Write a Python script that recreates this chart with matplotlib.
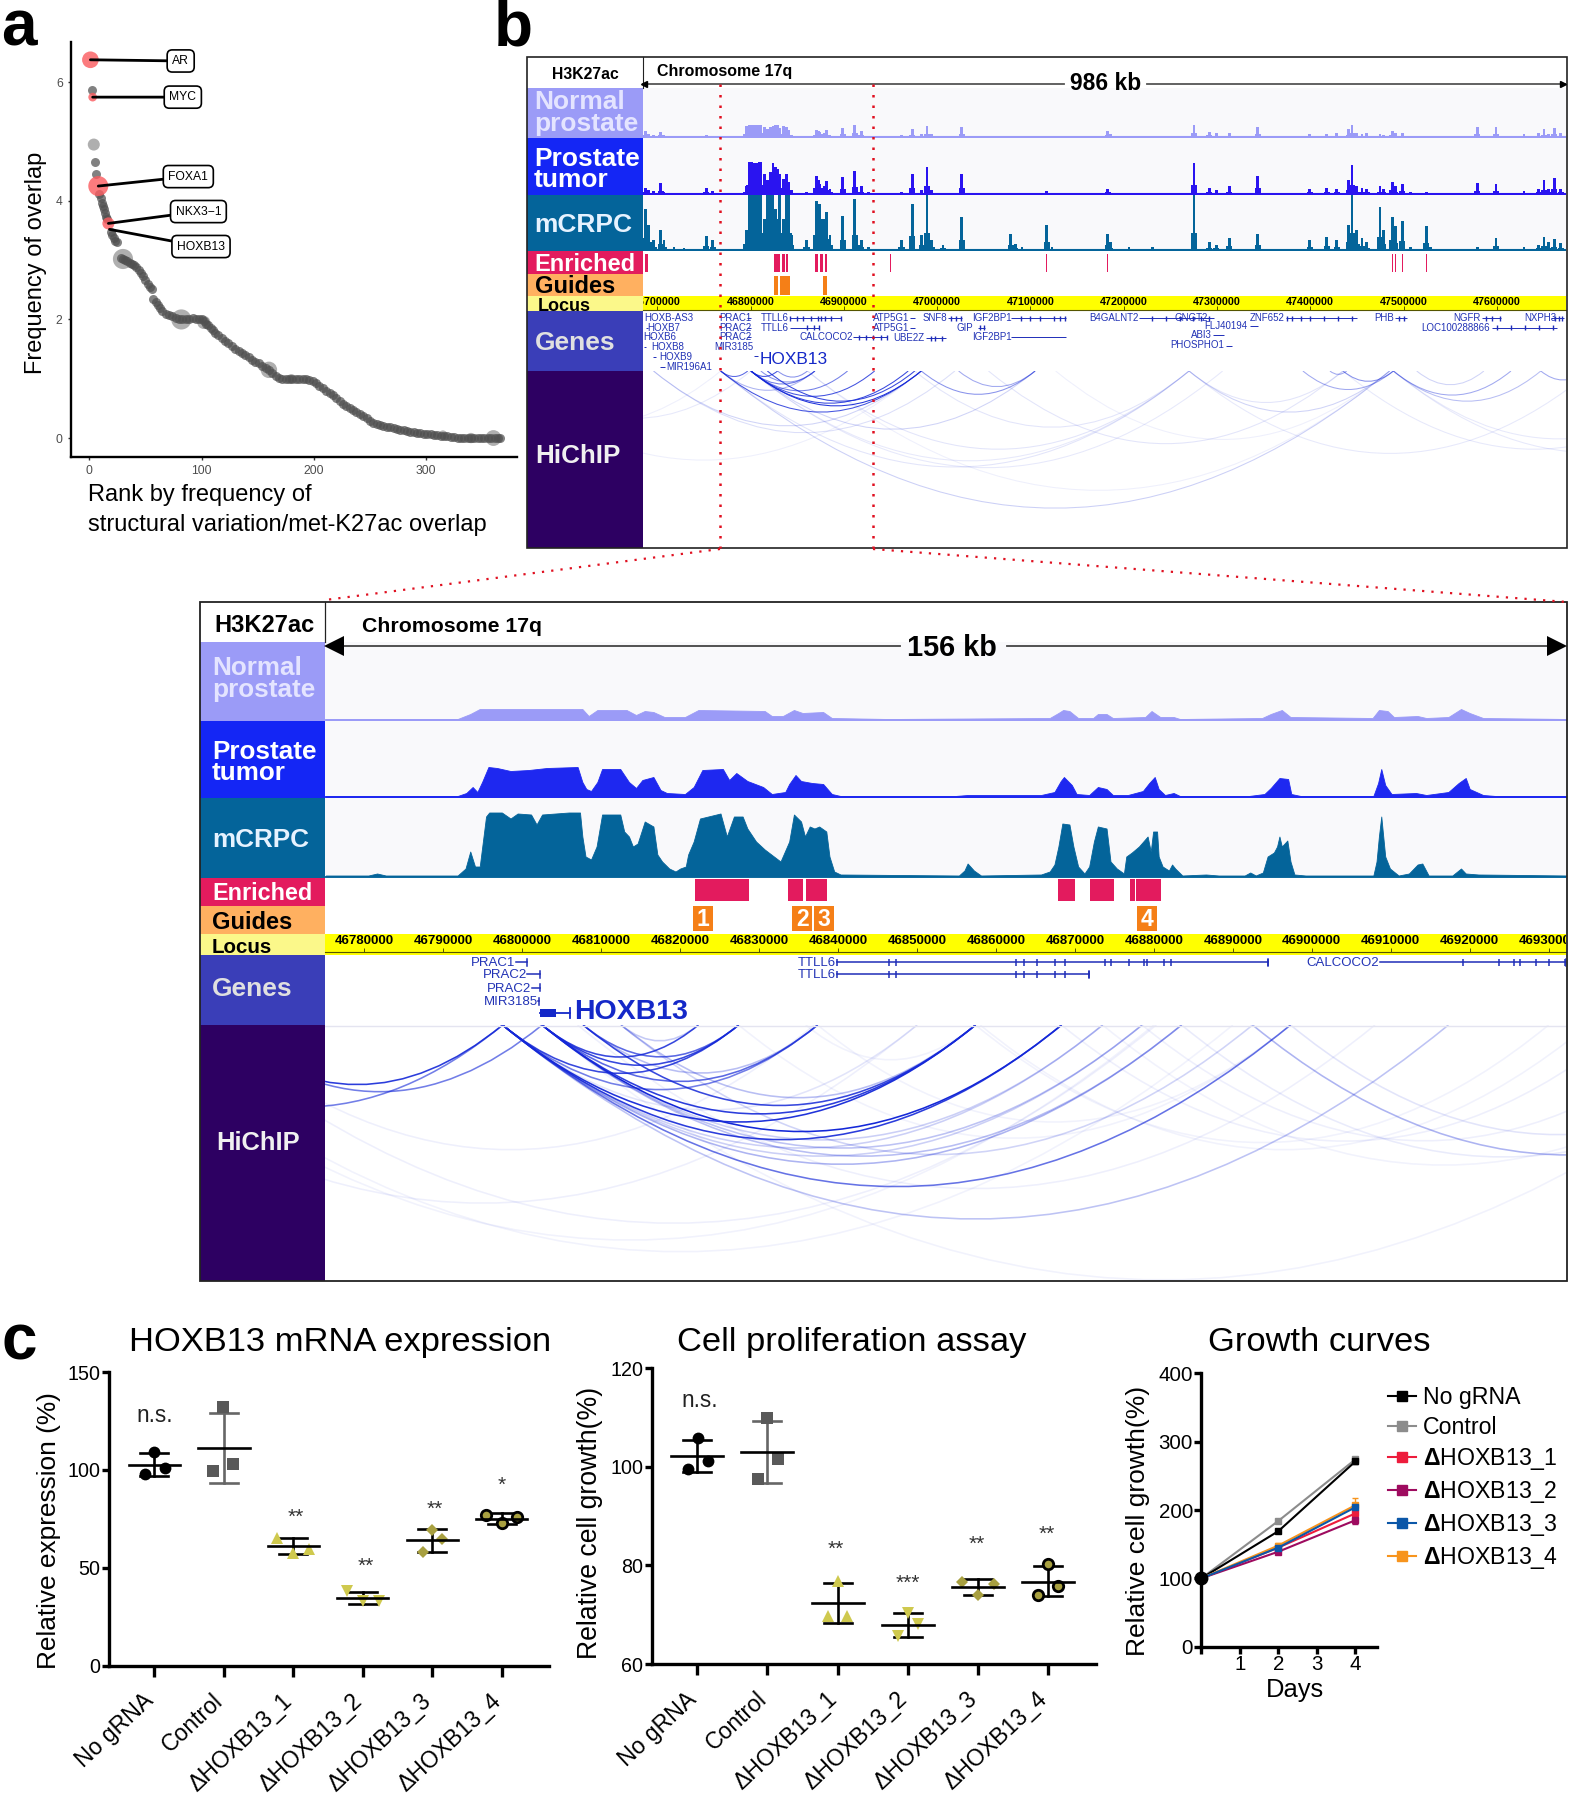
import matplotlib
matplotlib.use('Agg')
import matplotlib.pyplot as plt
from matplotlib.patches import Rectangle, PathPatch
from matplotlib.path import Path
from matplotlib.transforms import ScaledTranslation

plt.rcParams['font.family'] = ['Liberation Sans', 'DejaVu Sans']
plt.rcParams['mathtext.fontset'] = 'custom'
plt.rcParams['mathtext.bf'] = 'Liberation Sans:bold'
plt.rcParams['mathtext.rm'] = 'Liberation Sans'
plt.rcParams['axes.unicode_minus'] = False

W, H = 1569, 1800

# ------------------- panel a data -------------------
a_rank = [2, 5, 6, 9, 10, 11, 12, 13, 14, 15, 16, 19, 20, 22, 23, 25, 28, 30, 32, 34, 36, 38, 40, 42, 44, 46, 48, 50,
          52, 54, 56, 57, 59, 61, 63, 65, 68, 71, 74, 77, 80, 83, 86, 89, 92, 95, 98, 100, 102, 104, 106, 108, 110,
          112, 115, 118, 121, 124, 127, 130, 133, 136, 139, 142, 145, 148, 151, 154, 157, 160, 163, 166, 169, 172,
          175, 178, 181, 184, 187, 190, 193, 196, 199, 202, 205, 208, 211, 214, 217, 220, 223, 226, 229, 232, 235,
          238, 241, 244, 247, 250, 253, 256, 259, 262, 265, 268, 271, 274, 277, 280, 283, 286, 289, 292, 295, 298,
          301, 304, 307, 310, 313, 316, 319, 322, 325, 328, 331, 334, 337, 340, 343, 346, 349, 352, 355, 358, 361,
          364, 366]
a_freq = [5.87, 4.65, 4.45, 4.12, 4.05, 3.97, 3.92, 3.87, 3.8, 3.72, 3.7, 3.48, 3.42, 3.38, 3.33, 3.3, 3.03, 3.02, 3.0,
          2.98, 2.96, 2.93, 2.92, 2.88, 2.84, 2.78, 2.73, 2.67, 2.6, 2.55, 2.52, 2.35, 2.3, 2.25, 2.2, 2.15, 2.1, 2.07,
          2.05, 2.02, 2.0, 2.0, 2.0, 2.01, 2.02, 2.0, 2.0, 2.0, 1.98, 1.93, 1.9, 1.86, 1.83, 1.78, 1.74, 1.68, 1.63,
          1.6, 1.55, 1.5, 1.47, 1.44, 1.4, 1.36, 1.32, 1.28, 1.26, 1.22, 1.18, 1.15, 1.1, 1.05, 1.02, 1.0, 1.0, 1.0,
          1.0, 1.0, 1.0, 1.0, 1.0, 0.98, 0.96, 0.93, 0.88, 0.85, 0.8, 0.76, 0.72, 0.68, 0.62, 0.58, 0.54, 0.5, 0.47,
          0.44, 0.41, 0.38, 0.33, 0.28, 0.26, 0.24, 0.22, 0.21, 0.19, 0.18, 0.17, 0.15, 0.14, 0.13, 0.12, 0.11, 0.1,
          0.09, 0.08, 0.07, 0.07, 0.06, 0.05, 0.05, 0.04, 0.03, 0.03, 0.02, 0.01, 0.0, 0.0, 0.0, 0.0, 0.0, 0.0, 0.0,
          0.0, 0.0, 0.0, 0.0, 0.0, 0.0, 0.0]
a_big_rank = [4, 30, 82, 102, 160, 340, 360, 315, 180]
a_big_freq = [4.95, 3.02, 2.0, 1.95, 1.15, 0.0, 0.0, 0.05, 1.0]
a_big_size = [75, 210, 210, 90, 140, 55, 130, 45, 45]
a_red_gene = ['AR', 'MYC', 'FOXA1', 'NKX3−1', 'HOXB13']
a_red_rank = [1, 3, 8, 17, 18]
a_red_freq = [6.38, 5.75, 4.25, 3.62, 3.52]
a_red_size = [144, 39, 207, 75, 0]
a_lab_x = [81.4, 83.3, 88.2, 97.2, 99.5]
a_lab_y = [6.36, 5.75, 4.41, 3.82, 3.23]

# ------------------- panel b data (kb from 46,700,000) -------------------
b_pos = [-12.2, -9.3, -3.6, 3.6, 7.2, 17.9, 28.7, 52.4, 59.5, 68.1, 95.4, 98.3, 101, 104, 107, 110, 111.2, 114.8, 118.4,
         121, 124.1, 127, 129.1, 131.3, 134.9, 138.5, 141.3, 143.5, 160, 170.7, 172.5, 174.3, 177.2, 179.5, 181.5, 185.1, 198.7,
         211.6, 213.8, 218.8, 226, 261.8, 273.3, 283.4, 289.1, 294.1, 306.3, 326.4, 378.8, 383.8, 391, 417.5, 423.2,
         482.8, 485.7, 505.7, 530.8, 575.3, 591.8, 599, 613.3, 643.5, 699.4, 717.4, 728.1, 741, 744.6, 749.6, 755.4,
         760.4, 774.7, 778.3, 787.7, 791.2, 798.4, 807, 824.2, 828.6, 878.8, 898.9, 929, 944.8, 950.5, 955.5, 961.3,
         968.4]
b_crpc = [40, 25, 10, 20, 10, 3, 2, 14, 10, 1, 20, 54, 54, 54, 54, 54, 54, 30, 54, 54, 54, 40, 30, 54, 30, 54, 54, 15, 10, 48, 45, 45,
          30, 30, 37, 15, 33, 50, 15, 10, 3, 10, 45, 15, 54, 10, 5, 32, 16, 6, 3, 25, 3, 16, 8, 3, 3, 54, 8, 5, 12, 16,
          10, 13, 10, 25, 54, 20, 12, 8, 42, 20, 32, 24, 28, 3, 24, 3, 3, 12, 3, 5, 13, 8, 11, 7]
b_tumor = [6, 4, 3, 11, 2, 1, 0, 6, 3, 0, 8, 31, 31, 30, 30, 31, 31, 20, 14, 22, 30, 27, 25, 20, 15, 20, 12, 4, 2, 18, 14, 10,
           6, 8, 13, 5, 17, 23, 5, 8, 2, 2, 20, 4, 27, 4, 1, 20, 1, 0, 0, 3, 0, 5, 1, 0, 0, 30, 6, 4, 8, 18, 5, 6, 5, 14,
           28, 8, 6, 5, 8, 5, 12, 8, 10, 2, 2, 0, 11, 10, 3, 5, 14, 5, 16, 5]
b_normal = [6, 3, 2, 5, 2, 0, 0, 2, 1, 0, 11, 12, 12, 12, 12, 12, 12, 10, 8, 10, 11, 12, 12, 9, 11, 10, 7, 2, 0, 7, 6, 5,
            3, 4, 7, 2, 9, 12, 4, 6, 0, 2, 8, 3, 11, 3, 0, 10, 1, 0, 0, 1, 0, 6, 3, 0, 0, 12, 5, 4, 4, 10, 3, 3, 4, 8, 12,
            4, 3, 4, 3, 2, 6, 4, 4, 1, 1, 0, 10, 10, 3, 4, 8, 3, 9, 4]
b_enriched_start = [-12.9, 125.5, 133.4, 137.7, 169.3, 174.3, 179.3, 250, 417, 482.4, 788, 790.8, 798, 823.8]
b_enriched_end = [-10, 131.3, 137, 140.6, 172.2, 177.2, 182.2, 251, 418, 483.4, 789, 791.8, 799, 824.8]
b_guide_start = [124.8, 131.3, 135.9, 177.9]
b_guide_end = [129.1, 135.5, 142, 181.5]
b_ticks = [46700000, 46800000, 46900000, 47000000, 47100000, 47200000, 47300000, 47400000, 47500000, 47600000]
b_gene_name = ['HOXB-AS3', 'HOXB7', 'HOXB6', 'HOXB8', 'HOXB9', 'MIR196A1', 'PRAC1', 'PRAC2', 'PRAC2', 'MIR3185',
               'TTLL6', 'TTLL6', 'CALCOCO2', 'ATP5G1', 'ATP5G1', 'UBE2Z', 'SNF8', 'GIP', 'IGF2BP1', 'IGF2BP1',
               'B4GALNT2', 'GNGT2', 'FLJ40194', 'ABI3', 'PHOSPHO1', 'ZNF652', 'PHB', 'NGFR', 'LOC100288866', 'NXPH3']
b_gene_pos = [-14.3, -10.8, -15, -6.5, 2.2, 9.3, 66, 66.7, 66.7, 61, 111.2, 111.2, 152.8, 231.7, 231.7, 253.2, 284.1,
              320.7, 337.2, 337.2, 462.7, 554.5, 586.1, 571.7, 550.2, 634.9, 769, 853, 818.5, 929]
b_gene_row = [7, 16.7, 26, 35.7, 45.7, 56, 7, 16.7, 26, 36, 7, 16.7, 26, 7, 16.7, 27, 7, 16.7, 7, 26, 7, 7, 15, 24.3,
              34.5, 7, 7, 7, 16.7, 7]
b_line_start = [142, 142, 210.2, 270.4, 270.4, 288.4, 312, 343.6, 378.8, 378.8, 516.5, 591.8, 644.2, 595.4, 609.8, 674.3, 791.2, 884.5, 894.5, 957.7, 104,
                -12, -8, -14, -5, 3, 96, 96, 96]
b_line_end = [197.3, 173.6, 246.1, 276.2, 276.2, 309.9, 326.4, 351.5, 437.6, 437.6, 591, 596.8, 634.9, 607.6, 615.5, 749.6, 803.4, 903.9, 964.8, 972, 107.6,
              -10, -6, -12, -1, 8, 100, 100, 100]
b_line_row = [7, 16.7, 26, 7, 16.7, 27, 7, 16.7, 7, 26, 7, 7, 15, 24.3, 34.5, 7, 7, 7, 16.7, 7, 45, 16.7, 26, 35.7, 45.7, 56, 7, 16.7, 26]
b_exon = [142, 150, 156, 165, 172, 176, 180, 186, 197, 160, 168, 173, 216, 224, 231, 240, 246, 293, 298, 305, 315, 320,
          326, 346, 350, 390, 400, 410, 425, 432, 437, 530, 545, 560, 574, 583, 591, 675, 680, 690, 700, 715, 730, 745,
          795, 800, 888, 895, 903, 900, 915, 930, 945, 960, 962, 966, 970]
b_exon_row = [7, 7, 7, 7, 7, 7, 7, 7, 7, 16.7, 16.7, 16.7, 26, 26, 26, 26, 26, 27, 27, 27, 7, 7, 7, 16.7, 16.7, 7, 7, 7,
              7, 7, 7, 7, 7, 7, 7, 7, 7, 7, 7, 7, 7, 7, 7, 7, 7, 7, 7, 7, 7, 16.7, 16.7, 16.7, 16.7, 16.7, 7, 7, 7]
b_arc_start = [100.4, 68, 100.4, 100.4, 100.4, 111, 118, 100.4, 68, 100.4, 129, 68, -4, -4, 100.4, 283, 323, 276, 570, 692, 735,
               789, 789, 721, 814, 570, 161, 100.4, 570, 947, 789, 735, 789, 100.4, 68, 427, -147, -219, -183, 68, 355, 161]
b_arc_end = [283, 283, 233, 204, 169, 169, 276, 269, 97, 129, 161, 169, 283, 319, 405, 405, 405, 570, 785, 789, 789, 915,
             947, 739, 886, 735, 570, 570, 1001, 994, 1216, 1144, 1144, 606, 785, 785, 100.4, 68, 283, 570, 735, 785]
b_arc_alpha = [.95, .8, .8, .6, .6, .5, .85, .85, .7, .8, .5, .35, .2, .15, .2, .5, .4, .12, .2, .4, .5, .4, .3, .4, .2, .12, .12,
               .1, .1, .4, .1, .1, .1, .1, .22, .07, .1, .07, .07, .12, .12, .07]

# ------------------- zoomed panel data -------------------
z_crpc_pos = [75.1, 80.5, 81.6, 82.7, 91.8, 92.8, 93.4, 94, 94.6, 95, 95.4, 95.8, 97.4, 98.5, 99.4, 101.1, 101.8, 102.5, 105.9,
              107.3, 107.6, 108, 108.7, 109.4, 110.1, 112.4, 112.9, 113.5, 114, 114.6, 115.5, 116.6, 117.1, 117.7, 118.6,
              119.4, 120, 120.7, 121, 121.7, 122.5, 125.1, 125.9, 126.8, 127.9, 128.5, 129.6, 130.7, 132.7, 133.8, 134.4,
              135.3, 135.8, 136.4, 137, 137.6, 138.5, 138.9, 139.5, 140.3, 155.3, 156, 156.4, 157.2, 158.1, 165.7, 166.8,
              167.4, 167.9, 168.4, 169.3, 169.8, 170.4, 171.2, 171.8, 172.4, 172.9, 174, 174.5, 175.3, 176.2, 176.5, 177.2,
              178.1, 179.2, 179.6, 179.9, 180.4, 180.6, 181.1, 181.9, 182.3, 182.7, 183.6, 186.6, 188.2, 191.5, 192.2,
              192.9, 193.8, 194.4, 195.2, 195.6, 195.9, 196.2, 196.9, 197.3, 197.8, 199.2, 207.8, 208.2, 208.5, 208.8,
              209.3, 209.9, 211, 212.3, 213.4, 214, 214.8, 217.8, 218.9, 219.5, 221.1, 232.5]
z_crpc_val = [1, 1, 3, 1, 1, 8, 25, 10, 10, 35, 60, 64, 64, 58, 63, 62, 52, 62, 64, 64, 40, 20, 17, 30, 62, 62, 45, 40, 30, 33,
              55, 50, 22, 15, 8, 5, 8, 10, 22, 35, 58, 63, 40, 60, 60, 48, 35, 27, 15, 35, 62, 55, 40, 50, 48, 50, 45, 20, 5,
              2, 1, 6, 13, 6, 1, 2, 5, 12, 30, 53, 52, 30, 10, 3, 10, 35, 50, 48, 15, 8, 3, 20, 24, 30, 40, 25, 45, 45, 20,
              10, 6, 12, 8, 1, 2, 1, 1, 4, 1, 4, 20, 24, 30, 40, 30, 36, 15, 2, 1, 1, 15, 40, 60, 20, 8, 1, 3, 12, 13, 1, 1,
              8, 3, 2, 1]
z_tumor_pos = [75.1, 91.8, 92.9, 93.7, 94.3, 94.9, 95.7, 96.8, 98.5, 100.8, 103.1, 107, 107.6, 108.1, 108.7, 109.5, 110.1, 112.4,
               113.5, 114.4, 115.2, 116.6, 117.5, 118.3, 120.6, 121.7, 122.8, 125.4, 126.2, 127.1, 128.5, 130.5, 131.6,
               133.3, 133.8, 134.6, 135.3, 136.7, 138.1, 139.2, 140.3, 154.8, 156.4, 165.7, 167.4, 168.2, 168.6, 169.6,
               170.2, 171.8, 172.9, 174, 174.8, 176.7, 178.6, 179.4, 180.1, 180.6, 181.4, 182.5, 183.3, 192, 194, 194.8,
               195.9, 197, 197.4, 198.6, 207.8, 208.4, 208.8, 209.3, 210.1, 213.2, 214.5, 217.3, 218.6, 219.5, 220, 221.7,
               223.3, 232.5]
z_tumor_val = [1, 1, 4, 10, 5, 15, 30, 29, 26, 27, 29, 30, 15, 8, 6, 15, 28, 28, 15, 9, 17, 20, 7, 4, 3, 10, 27, 28, 17, 24, 16,
               10, 3, 5, 13, 22, 16, 14, 13, 3, 1, 1, 2, 2, 5, 16, 20, 12, 3, 2, 10, 8, 2, 2, 6, 14, 20, 8, 2, 4, 1, 1, 3, 9,
               19, 18, 3, 1, 1, 14, 28, 12, 3, 4, 2, 5, 14, 19, 8, 2, 1, 1]
z_normal_pos = [75.1, 91.8, 93.4, 94.6, 95.7, 107.6, 108.4, 109.5, 113.2, 114.4, 115.5, 116.6, 118, 120.6, 122.3, 130.7, 131.6,
                133, 134.4, 135.5, 138.1, 139.2, 146.4, 166.8, 167.9, 168.5, 169.3, 170.4, 172.3, 172.9, 174, 174.8, 178.9,
                179.7, 180.8, 182.5, 183.3, 193.7, 194.8, 196.2, 197.3, 207.7, 208.5, 209.6, 210.4, 213.4, 214.5, 217.3,
                218.9, 220, 221.7, 232.5]
z_normal_val = [1, 1, 6, 11, 11, 11, 4, 10, 10, 5, 9, 8, 3, 3, 10, 9, 4, 4, 10, 7, 8, 2, 1, 2, 7, 10, 9, 2, 2, 6, 6, 2, 3, 9, 3,
                3, 1, 2, 6, 10, 3, 2, 10, 9, 3, 4, 2, 3, 11, 7, 2, 1]
z_enriched_start = [121.9, 133.6, 135.9, 167.8, 171.9, 177, 177.7]
z_enriched_end = [128.7, 135.5, 138.6, 170, 175, 177.6, 180.9]
z_guide_start = [121.6, 134.2, 137, 177.9]
z_guide_end = [124.1, 136.7, 139.5, 180.4]
z_guide_label = ['1', '2', '3', '4']
z_ticks = [46780000, 46790000, 46800000, 46810000, 46820000, 46830000, 46840000, 46850000, 46860000, 46870000, 46880000,
           46890000, 46900000, 46910000, 46920000, 46930000]
z_gene_name = ['PRAC1', 'PRAC2', 'PRAC2', 'MIR3185', 'TTLL6', 'TTLL6', 'CALCOCO2']
z_gene_start = [99.2, 100.6, 101.2, 102, 139.8, 139.8, 208.6]
z_gene_end = [100.6, 102.2, 102.2, 102.1, 194.4, 171.8, 232.2]
z_gene_row = [7, 19, 32.7, 46, 7, 19, 7]
z_exons_1 = [139.9, 146.5, 147.3, 162.5, 163.6, 165.2, 167.5, 168.8, 173.8, 174.6, 176.9, 178.8, 179.1, 181.3, 182.2, 194.4]
z_exons_2 = [139.9, 146.5, 147.3, 162.5, 163.6, 165.2, 167.5, 168.8, 171.8]
z_exons_3 = [219.2, 223.7, 225.6, 226.4, 228.4, 230.1, 232.1]
z_arc_start = [60.7, 61.3, 46.8, 102.5, 102.5, 97.5, 102.5, 97.5, 107.7, 112.5, 107.7, 112.5, 107.7, 102.5, 97.5, 102.5, 97.5,
               102.5, 97.5, 102.5, 97.5, 97.5, 102.5, 97.5, 97.5, 57.9, 47.2, 192.5, 183.5, 197.3, 178.5, 102.5, 40, 50, 60,
               135.9, 157.4, 168.3, 158, 107, 112.5, 97.5, 173.5, 137.4, 127.4]
z_arc_end = [97.5, 102.5, 97.5, 122.3, 127.4, 127.4, 137.4, 137.4, 137.4, 122.3, 127.4, 157.4, 157.4, 157.4, 157.4, 168.3,
             168.3, 183.5, 183.5, 178.5, 173.5, 178.5, 173.5, 197.3, 217.3, 180.3, 180, 272.8, 265, 265, 250, 259.9, 150,
             190, 137, 157.4, 230, 240, 235, 208, 192.5, 150, 260, 197.3, 197.3]
z_arc_alpha = [.9, .6, .6, .85, .85, .85, .7, .6, .3, .25, .7, .3, .85, .9, .95, 1, .9, .3, .35, .28, .22, .22, .22, .65, .28,
               .07, .06, .35, .09, .12, .07, .06, .07, .06, .07, .06, .06, .07, .06, .07, .2, .12, .06, .06, .06]

# ------------------- panel c data -------------------
c_groups = ['No gRNA', 'Control', 'ΔHOXB13_1', 'ΔHOXB13_2', 'ΔHOXB13_3', 'ΔHOXB13_4']
c_colors = ['black', '#595959', '#CFC94E', '#CFC94E', '#A8A040', '#A8A040']
c_markers = ['o', 's', '^', 'v', 'D', 'o']
c_msize = [8.5, 9, 9, 9, 6.5, 7.5]

expr_off = [[0, .155, -.135], [-.01, .13, -.155], [-.237, 0, .232], [-.22, .01, .24], [0, .145, -.14], [-.227, 0, .222]]
expr_val = [[109.3, 101, 98], [132.3, 102.8, 99.4], [65.2, 57.4, 59.8], [38.1, 33.2, 33.2], [69.5, 64.9, 58.2], [77, 72.7, 75.8]]
expr_mean = [102.5, 111.3, 61.1, 34.6, 64.2, 74.9]
expr_hi = [108.5, 129.2, 65.4, 37.8, 69.8, 77.8]
expr_lo = [97, 93.5, 57, 31.5, 58.2, 72.2]
expr_star = ['n.s.', '', '**', '**', '**', '*']
expr_star_x = [0, 0, .04, .04, .03, 0]
expr_star_y = [128, 0, 76, 51, 80, 92]

prol_off = [[.005, .15, -.14], [0, .15, -.14], [0, -.14, .14], [0, .15, -.14], [-.225, .23, 0], [0, .144, -.138]]
prol_val = [[105.8, 101.1, 99.6], [109.9, 101.5, 97.6], [76.8, 69.7, 69.7], [70.4, 68.1, 65.7], [76.7, 76.2, 74], [80.3, 75.9, 74]]
prol_mean = [102.2, 103, 72.4, 68, 75.6, 76.7]
prol_hi = [105.4, 109.4, 76.4, 70.3, 77.2, 79.8]
prol_lo = [99, 96.7, 68.4, 65.5, 74.1, 73.7]
prol_star = ['n.s.', '', '**', '***', '**', '**']
prol_star_x = [.03, 0, -.02, 0, -.01, -.01]
prol_star_y = [113.4, 0, 83.3, 76.3, 84.3, 86.3]

days = [0, 2, 4]
gc_names = ['No gRNA', 'Control', r'$\mathbf{\Delta}$HOXB13_1', r'$\mathbf{\Delta}$HOXB13_2',
            r'$\mathbf{\Delta}$HOXB13_3', r'$\mathbf{\Delta}$HOXB13_4']
gc_colors = ['black', '#8C8C8C', '#ED1C3C', '#9E0B5F', '#0B57A8', '#F7941D']
gc_order = [1, 0, 2, 3, 5, 4]
gc_vals = [[100, 169, 271], [100, 184, 274], [100, 145, 195], [100, 139, 185], [100, 145, 204], [100, 148, 207]]
gc_err = [[0, 3, 4], [0, 3, 4], [0, 3, 6], [0, 3, 5], [0, 3, 6], [0, 4, 11]]

# ---------------------------------------------------------------
fig = plt.figure(figsize=(W / 100, H / 100), dpi=100, facecolor='white')


def px_axes(l, t, r, b, **kw):
    return fig.add_axes([l / W, 1 - b / H, (r - l) / W, (b - t) / H], **kw)


ov = px_axes(0, 0, W, H, zorder=20)
ov.set_xlim(0, W)
ov.set_ylim(H, 0)
ov.axis('off')
ov.patch.set_alpha(0)

bk = px_axes(0, 0, W, H, zorder=0)
bk.set_xlim(0, W)
bk.set_ylim(H, 0)
bk.axis('off')

for s, x, y in [('a', 1, 46), ('b', 494, 46), ('c', 1, 1360)]:
    ov.text(x, y, s, fontsize=46, fontweight='bold', ha='left', va='baseline')

# ---------- panel a ----------
ax = px_axes(71, 42, 517, 457, zorder=5)
ax.set_xlim(-16.3, 381)
ax.set_ylim(-0.32, 6.68)
ax.scatter(a_rank, a_freq, s=42, c='#505050', alpha=.72, linewidths=0, zorder=2)
ax.scatter(a_big_rank, a_big_freq, s=a_big_size, c='#7A7A7A', alpha=.6, linewidths=0, zorder=1)
ax.scatter(a_red_rank, a_red_freq, s=a_red_size, c='#FB5A5E', alpha=.8, linewidths=0, zorder=3)
for g, rx, ry, lx, ly in zip(a_red_gene, a_red_rank, a_red_freq, a_lab_x, a_lab_y):
    ax.annotate(g, xy=(rx, ry), xytext=(lx, ly), fontsize=8.7, ha='center', va='center', zorder=6,
                bbox=dict(boxstyle='round,pad=0.42', fc='white', ec='black', lw=1.2),
                arrowprops=dict(arrowstyle='-', color='black', lw=2, shrinkA=0, shrinkB=0))
for s in ['top', 'right']:
    ax.spines[s].set_visible(False)
for s in ['left', 'bottom']:
    ax.spines[s].set_linewidth(1.7)
ax.set_xticks([0, 100, 200, 300])
ax.set_yticks([0, 2, 4, 6])
ax.tick_params(labelsize=8.7, labelcolor='#4D4D4D', color='#333333', length=2.5, width=1)
ov.text(36, 262.5, 'Frequency of overlap', rotation=90, fontsize=17, ha='center', va='center')
ov.text(88, 495, 'Rank by frequency of', fontsize=17, ha='left', va='center')
ov.text(88, 524.5, 'structural variation/met-K27ac overlap', fontsize=17, ha='left', va='center')


# ---------- genome browser panels ----------
def rows_bg(rows):
    for top, bot, col in rows:
        bk.add_patch(Rectangle((rows_l, top), rows_r - rows_l, bot - top, fc=col, ec='none'))


def track_ax(top, bot, xlim, r):
    a = px_axes(rows_r, top, r, bot, zorder=3)
    a.set_xlim(*xlim)
    a.axis('off')
    return a


def label(x, y, s, size, color='white'):
    ov.text(x, y + 2.3, s, fontsize=size, fontweight='bold', color=color, ha='left', va='center')


def add_arcs(a, starts, ends, alphas, kpx, lw):
    for s, e, al in zip(starts, ends, alphas):
        d = 0.205 * (e - s) * kpx
        p = Path([(s, 0), ((s + e) / 2, 2 * d), (e, 0)], [Path.MOVETO, Path.CURVE3, Path.CURVE3])
        a.add_patch(PathPatch(p, fill=False, ec='#1428D8', lw=lw, alpha=al))


COL = dict(normal='#9B9BF7', tumor='#1426F5', crpc='#04649A', enr='#E31B5E', gui='#FFB060', loc='#FBF88A',
           gen='#3A3EB8', hic='#2D0062')
TRK = '#F9F9FB'

# panel b
rows_l, rows_r = 527, 642.5
R = 1566
y0 = [57, 88, 138, 195, 251, 274, 296, 311, 371, 548]
rows_bg([(y0[1], y0[2], COL['normal']), (y0[2], y0[3], COL['tumor']), (y0[3], y0[4], COL['crpc']), (y0[4], y0[5], COL['enr']),
         (y0[5], y0[6], COL['gui']), (y0[6], y0[7], COL['loc']), (y0[7], y0[8], COL['gen']), (y0[8], y0[9], COL['hic'])])
xl = (-15.8, 974)
for top, bot, vals, col in [(y0[1], y0[2], b_normal, COL['normal']), (y0[2], y0[3], b_tumor, '#2A14F0'), (y0[3], y0[4], b_crpc, COL['crpc'])]:
    a = track_ax(top, bot, xl, R)
    a.axis('on')
    a.set_xticks([])
    a.set_yticks([])
    for sp in a.spines.values():
        sp.set_visible(False)
    a.set_facecolor(TRK)
    a.set_ylim(-1, bot - top - 2)
    a.bar(b_pos, vals, width=3.0, color=col, linewidth=0)
    a.bar(b_pos, [v * .3 for v in vals], width=6.5, color=col, linewidth=0)
    a.axhline(0, color=col, lw=1.5)
a = track_ax(y0[4], y0[5], xl, R)
a.set_ylim(0, 1)
for s, e in zip(b_enriched_start, b_enriched_end):
    a.add_patch(Rectangle((s, .1), e - s, .78, fc=COL['enr'], ec='none'))
a = track_ax(y0[5], y0[6], xl, R)
a.set_ylim(0, 1)
for s, e in zip(b_guide_start, b_guide_end):
    a.add_patch(Rectangle((s, .05), e - s, .87, fc='#F57F17', ec='none'))
a = px_axes(rows_r, y0[6], R, y0[7], zorder=3)
a.set_xlim(*xl)
a.set_ylim(0, 1)
a.set_facecolor('#FFFF00')
for s in ['top', 'left', 'right']:
    a.spines[s].set_visible(False)
a.spines['bottom'].set_position(('axes', 0.08))
a.spines['bottom'].set_color('#555500')
a.set_yticks([])
a.set_xticks([t / 1000 - 46700 for t in b_ticks])
a.set_xticklabels([])
a.tick_params(axis='x', direction='in', length=3, width=.7, color='#555500')
for t in b_ticks:
    a.text(t / 1000 - 46700, .58, str(t), fontsize=7.7, fontweight='bold', ha='center', va='center', clip_on=True)
a = track_ax(y0[7], y0[8], xl, R)
a.set_ylim(y0[8] - y0[7], 0)
for n, p, r in zip(b_gene_name, b_gene_pos, b_gene_row):
    a.text(p, r, n, fontsize=7, color='#2233B5', ha='left', va='center')
a.text(109.8, 48, 'HOXB13', fontsize=12.4, color='#1428C8', ha='left', va='center')
a.hlines(b_line_row, b_line_start, b_line_end, color='#1F2DB8', lw=.7)
a.vlines(b_exon, [r - 2.5 for r in b_exon_row], [r + 2.5 for r in b_exon_row], color='#1F2DB8', lw=1.0)
a = track_ax(y0[8], y0[9], xl, R)
a.set_ylim(y0[9] - y0[8], 0)
add_arcs(a, b_arc_start, b_arc_end, b_arc_alpha, 0.933, .75)

ov.add_patch(Rectangle((527, 57), 1567 - 527, 491, fc='none', ec='#222222', lw=1.2))
ov.plot([642.5, 642.5], [57, 88], color='#222222', lw=.8)
ov.text(585, 74.5, 'H3K27ac', fontsize=11.3, fontweight='bold', ha='center', va='center')
ov.text(657, 71.5, 'Chromosome 17q', fontsize=11.5, fontweight='bold', ha='left', va='center')
ov.text(1105.7, 83, '986 kb', fontsize=16.4, fontweight='bold', ha='center', va='center')
ov.plot([642.5, 1063.5], [84, 84], color='#555555', lw=1.3)
ov.plot([1147, 1566], [84, 84], color='#555555', lw=1.3)
ov.plot([644], [84], marker='<', color='black', ms=5)
ov.plot([1563], [84], marker='>', color='black', ms=5)
label(534, 100, 'Normal', 19, '#E4E4FF')
label(534, 121.7, 'prostate', 19, '#E4E4FF')
label(534, 156.7, 'Prostate', 19)
label(534, 178, 'tumor', 19)
label(534, 223, 'mCRPC', 19, '#E6F2FF')
label(534, 262, 'Enriched', 17)
label(535, 284, 'Guides', 17, 'black')
label(538, 304, 'Locus', 13, 'black')
label(535, 341, 'Genes', 19, '#E0E0E0')
label(535.5, 454, 'HiChIP', 18.7, '#F0F0F0')

for x in (720, 873):
    ov.plot([x, x], [84, 548], color='#E01020', lw=1.8, ls=(0, (1, 3.2)))
ov.plot([720, 325], [549, 600], color='#E01020', lw=1.6, ls=(0, (1, 3.2)))
ov.plot([873, 1567], [549, 602], color='#E01020', lw=1.6, ls=(0, (1, 3.2)))

# zoomed panel
rows_l, rows_r = 200, 325
R = 1566
y1 = [602, 642, 721, 798, 877.5, 905.5, 934, 955, 1025, 1281]
rows_bg([(y1[1], y1[2], COL['normal']), (y1[2], y1[3], COL['tumor']), (y1[3], y1[4], COL['crpc']), (y1[4], y1[5], COL['enr']),
         (y1[5], y1[6], COL['gui']), (y1[6], y1[7], COL['loc']), (y1[7], y1[8], COL['gen']), (y1[8], y1[9], COL['hic'])])
xl = (75.0, 232.2)
for top, bot, px_, vals, col in [(y1[1], y1[2], z_normal_pos, z_normal_val, COL['normal']), (y1[2], y1[3], z_tumor_pos, z_tumor_val, '#1E28F0'),
                                 (y1[3], y1[4], z_crpc_pos, z_crpc_val, COL['crpc'])]:
    a = track_ax(top, bot, xl, R)
    a.axis('on')
    a.set_xticks([])
    a.set_yticks([])
    for sp in a.spines.values():
        sp.set_visible(False)
    a.set_facecolor(TRK)
    a.set_ylim(-1, bot - top - 1)
    a.fill_between(px_, 0, vals, color=col, linewidth=0.6)
    a.axhline(0, color=col, lw=1.3)
a = track_ax(y1[4], y1[5], xl, R)
a.set_ylim(0, 1)
for s, e in zip(z_enriched_start, z_enriched_end):
    a.add_patch(Rectangle((s, .17), e - s, .77, fc=COL['enr'], ec='none'))
a = track_ax(y1[5], y1[6], xl, R)
a.set_ylim(0, 1)
for s, e, n in zip(z_guide_start, z_guide_end, z_guide_label):
    a.add_patch(Rectangle((s, .1), e - s, .87, fc='#F57F17', ec='none'))
    a.text((s + e) / 2, .52, n, fontsize=16.5, fontweight='bold', color='white', ha='center', va='center')
a = px_axes(rows_r, y1[6], R, y1[7], zorder=3)
a.set_xlim(*xl)
a.set_ylim(0, 1)
a.set_facecolor('#FFFF00')
for s in ['top', 'left', 'right']:
    a.spines[s].set_visible(False)
a.spines['bottom'].set_position(('axes', 0.157))
a.spines['bottom'].set_color('#555500')
a.set_yticks([])
a.set_xticks([t / 1000 - 46700 for t in z_ticks])
a.set_xticklabels([])
a.tick_params(axis='x', direction='in', length=3, width=.7, color='#555500')
for t in z_ticks:
    a.text(t / 1000 - 46700, .65, str(t), fontsize=9.5, fontweight='bold', ha='center', va='center', clip_on=True)
a = track_ax(y1[7], y1[8], xl, R)
a.set_ylim(y1[8] - y1[7], 0)
for n, s, e, r in zip(z_gene_name, z_gene_start, z_gene_end, z_gene_row):
    a.text(s - .05, r + 1, n, fontsize=9.5, color='#2233B5', ha='right', va='center')
    a.plot([s, e], [r, r], color='#1F2DB8', lw=1.1)
    a.plot([e, e], [r - 3.5, r + 3.5], color='#1F2DB8', lw=1.1)
a.vlines(z_exons_1, 3.5, 10.5, color='#1F2DB8', lw=1.1)
a.vlines(z_exons_2, 15.5, 22.5, color='#1F2DB8', lw=1.1)
a.vlines(z_exons_3, 3.5, 10.5, color='#1F2DB8', lw=1.1)
a.add_patch(Rectangle((102.2, 54), 2.0, 7.5, fc='#1428C8', ec='none'))
a.plot([102.2, 106], [57.7, 57.7], color='#1428C8', lw=1.3)
a.plot([106, 106], [53, 62.5], color='#1428C8', lw=1.3)
a.text(106.5, 57, 'HOXB13', fontsize=20.5, fontweight='bold', color='#1428C8', ha='left', va='center')
a = track_ax(y1[8], y1[9], xl, R)
a.set_ylim(y1[9] - y1[8], 0)
add_arcs(a, z_arc_start, z_arc_end, z_arc_alpha, 7.9, 1.15)
a.axhline(0.5, color='#E4E4F0', lw=1)

ov.add_patch(Rectangle((200, 602), 1567 - 200, 679, fc='none', ec='#222222', lw=1.3))
ov.plot([325, 325], [602, 642], color='#222222', lw=.9)
ov.text(264, 626, 'H3K27ac', fontsize=17, fontweight='bold', ha='center', va='center')
ov.text(362, 627, 'Chromosome 17q', fontsize=15.3, fontweight='bold', ha='left', va='center')
ov.text(951.5, 648, '156 kb', fontsize=20.8, fontweight='bold', ha='center', va='center')
ov.plot([335, 900], [646, 646], color='#444444', lw=1.3)
ov.plot([1007, 1556], [646, 646], color='#444444', lw=1.3)
ov.plot([334], [646], marker='<', color='black', ms=15, mew=0)
ov.plot([1557], [646], marker='>', color='black', ms=15, mew=0)
label(212, 666, 'Normal', 18.8, '#E4E4FF')
label(212, 687.7, 'prostate', 18.8, '#E4E4FF')
label(212, 749.3, 'Prostate', 18.8)
label(212, 771, 'tumor', 18.8)
label(212, 838, 'mCRPC', 18.8, '#E6F2FF')
label(212, 891.7, 'Enriched', 16.8)
label(212, 920, 'Guides', 17, 'black')
label(212, 945, 'Locus', 14.8, 'black')
label(212, 987, 'Genes', 19, '#E0E0E0')
label(216.4, 1141, 'HiChIP', 18.4, '#F0F0F0')


# ---------- panel c ----------
def style(a):
    for s in ['top', 'right']:
        a.spines[s].set_visible(False)
    for s in ['left', 'bottom']:
        a.spines[s].set_linewidth(2.4)
    a.tick_params(width=2.4, length=8, labelsize=14.2, pad=2)
    a.tick_params(axis='y', length=5, pad=1)


def dotplot(a, off, val, mean, hi, lo, star, sx, sy):
    for i in range(6):
        col = '#666666' if i == 1 else 'black'
        a.plot([i, i], [lo[i], hi[i]], color=col, lw=1.9, zorder=2)
        a.plot([i - .2, i + .2], [hi[i], hi[i]], color=col, lw=1.9, zorder=2)
        a.plot([i - .2, i + .2], [lo[i], lo[i]], color=col, lw=1.9, zorder=2)
        a.plot([i - .37, i + .37], [mean[i], mean[i]], color='black', lw=1.9, zorder=4)
        edge = 'black' if i == 5 else c_colors[i]
        a.plot([i + o for o in off[i]], val[i], ls='none', marker=c_markers[i], ms=c_msize[i], mfc=c_colors[i],
               mec=edge, mew=2 if i == 5 else 0, zorder=3)
        if star[i]:
            if star[i] == 'n.s.':
                a.text(i + sx[i], sy[i], star[i], fontsize=16.3, ha='center', va='center', color='#222222')
            else:
                a.text(i + sx[i], sy[i], star[i], fontsize=15, ha='center', va='center', color='#333333')
    a.set_xticks(range(6))
    a.set_xticklabels(c_groups, rotation=43, ha='right', va='top', rotation_mode='anchor', fontsize=16.6)
    style(a)
    a.tick_params(axis='x', pad=9, labelsize=16.6)
    shift = ScaledTranslation(-12 / 100, 0, fig.dpi_scale_trans)
    for t in a.get_xticklabels():
        t.set_transform(t.get_transform() + shift)


a = px_axes(109, 1372, 549, 1665.7, zorder=5)
a.set_xlim(-.652, 5.68)
a.set_ylim(0, 150)
a.set_yticks([0, 50, 100, 150])
dotplot(a, expr_off, expr_val, expr_mean, expr_hi, expr_lo, expr_star, expr_star_x, expr_star_y)
ov.text(49.5, 1531, 'Relative expression (%)', rotation=90, fontsize=18.9, ha='center', va='center')
ov.text(340, 1342.5, 'HOXB13 mRNA expression', fontsize=24.8, ha='center', va='center')

a = px_axes(651.6, 1368.3, 1095.6, 1664, zorder=5)
a.set_xlim(-.652, 5.68)
a.set_ylim(60, 120)
a.set_yticks([60, 80, 100, 120])
dotplot(a, prol_off, prol_val, prol_mean, prol_hi, prol_lo, prol_star, prol_star_x, prol_star_y)
ov.text(590, 1522.5, 'Relative cell growth(%)', rotation=90, fontsize=19.2, ha='center', va='center')
ov.text(851.5, 1342.5, 'Cell proliferation assay', fontsize=24.8, ha='center', va='center')

a = px_axes(1201.3, 1373.3, 1377.3, 1646.7, zorder=5)
a.set_xlim(0, 4.57)
a.set_ylim(0, 400)
hs = []
for i in gc_order:
    a.errorbar(days, gc_vals[i], yerr=gc_err[i], color=gc_colors[i], lw=1.5, marker='s', ms=5, capsize=2, elinewidth=1,
               clip_on=False, zorder=4)
for i in range(6):
    hs.append(plt.Line2D([], [], color=gc_colors[i], lw=1.5, marker='s', ms=6.5))
a.plot([0], [100], marker='o', ms=9, color='black', clip_on=False, zorder=6)
a.set_xticks([0, 1, 2, 3, 4])
a.set_xticklabels(['', '1', '2', '3', '4'])
a.set_yticks([0, 100, 200, 300, 400])
style(a)
a.tick_params(axis='x', length=5, labelsize=14.8, pad=1)
a.tick_params(axis='y', labelsize=14.8)
a.legend(hs, gc_names, loc='upper left', bbox_to_anchor=(1388 / W, 1 - 1386 / H), bbox_transform=fig.transFigure, frameon=False,
         fontsize=16.7, borderpad=0, borderaxespad=0, handlelength=1.2, handletextpad=.3, labelspacing=.3)
ov.text(1138, 1521, 'Relative cell growth(%)', rotation=90, fontsize=19, ha='center', va='center')
ov.text(1295, 1690.5, 'Days', fontsize=18.4, ha='center', va='center')
ov.text(1319, 1342.5, 'Growth curves', fontsize=24.8, ha='center', va='center')

fig.savefig('out.png', dpi=100)
